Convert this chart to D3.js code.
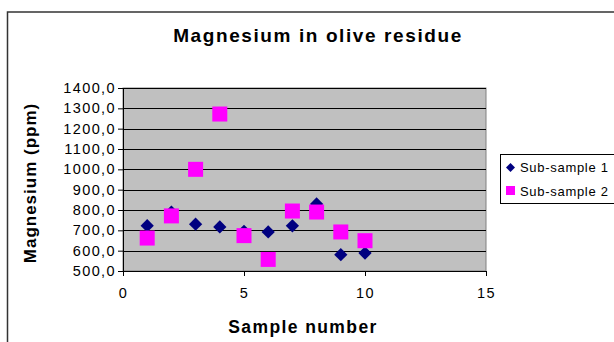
<!DOCTYPE html>
<html><head><meta charset="utf-8">
<script src="https://cdn.jsdelivr.net/npm/d3@7"></script>
<style>body{margin:0;background:#fff}svg{display:block;font-family:Arial,"Liberation Sans",sans-serif}</style>
</head><body>
<svg id="c" width="614" height="342"></svg>
<script>
const samples = [1,2,3,4,5,6,7,8,9,10];
const subSample1 = [723,790,730,717,695,692,722,830,580,588];
const subSample2 = [662,771,1000,1272,674,557,795,790,692,649];
const yTicks = [500,600,700,800,900,1000,1100,1200,1300,1400];
const xTicks = [0,5,10,15];
const seriesNames = ["Sub-sample 1","Sub-sample 2"];

const svg = d3.select("#c");
const L=123,R=486,T=88,B=271;
const x = d3.scaleLinear().domain([0,15]).range([L,R]);
const y = d3.scaleLinear().domain([500,1400]).range([B,T]);

// outer frame
svg.append("path").attr("d","M7.5,360 V12 H640").attr("fill","none").attr("stroke","#333").attr("stroke-width",1.5);

// plot area
svg.append("rect").attr("x",L).attr("y",T).attr("width",R-L).attr("height",B-T).attr("fill","#c0c0c0").attr("stroke","#808080").attr("stroke-width",1);

// gridlines
svg.append("g").selectAll("line").data(yTicks.filter(d=>d>500)).join("line")
  .attr("x1",L).attr("x2",R).attr("y1",d=>Math.round(y(d))+0.5).attr("y2",d=>Math.round(y(d))+0.5)
  .attr("stroke","#000").attr("stroke-width",1);

// axes
const fmt = d=>d.toFixed(1).replace(".",",");
const gy = svg.append("g").attr("transform",`translate(${L},0)`)
  .call(d3.axisLeft(y).tickValues(yTicks).tickFormat(fmt).tickSize(5).tickPadding(2));
const gx = svg.append("g").attr("transform",`translate(0,${B})`)
  .call(d3.axisBottom(x).tickValues(xTicks).tickSize(5).tickPadding(12));
[gy,gx].forEach(g=>{
  g.select(".domain").attr("stroke","#000");
  g.selectAll(".tick line").attr("stroke","#000");
  g.selectAll("text").attr("font-family","Arial,'Liberation Sans',sans-serif").attr("font-size",14.5).attr("fill","#000").style("letter-spacing","1.4px");
});

// points
const d1 = samples.map((s,i)=>({x:s,y:subSample1[i]}));
const d2 = samples.map((s,i)=>({x:s,y:subSample2[i]}));
const diamond = d3.symbol().type(d3.symbolSquare).size(88);
svg.append("g").selectAll("path").data(d1).join("path")
  .attr("d",diamond).attr("transform",d=>`translate(${x(d.x)},${y(d.y)}) rotate(45)`)
  .attr("fill","#000080");
const sq=15;
svg.append("g").selectAll("rect").data(d2).join("rect")
  .attr("x",d=>x(d.x)-sq/2).attr("y",d=>y(d.y)-sq/2).attr("width",sq).attr("height",sq)
  .attr("fill","#ff00ff");

// titles
svg.append("text").attr("x",318).attr("y",42).attr("text-anchor","middle")
  .attr("font-weight","bold").attr("font-size",19).style("letter-spacing","1.6px").text("Magnesium in olive residue");
svg.append("text").attr("x",303).attr("y",333).attr("text-anchor","middle")
  .attr("font-weight","bold").attr("font-size",17.5).style("letter-spacing","1.4px").text("Sample number");
svg.append("text").attr("transform","translate(36,183) rotate(-90)").attr("text-anchor","middle")
  .attr("font-weight","bold").attr("font-size",17).style("letter-spacing","1px").text("Magnesium (ppm)");

// legend
const lg = svg.append("g");
lg.append("rect").attr("x",500.5).attr("y",154.5).attr("width",140).attr("height",49).attr("fill","#fff").attr("stroke","#000");
lg.append("path").attr("d",d3.symbol().type(d3.symbolSquare).size(40)).attr("transform","translate(510.5,167.5) rotate(45)").attr("fill","#000080");
lg.append("rect").attr("x",506).attr("y",186).attr("width",9).attr("height",9).attr("fill","#ff00ff");
lg.selectAll("text").data(seriesNames).join("text")
  .attr("x",520).attr("y",(d,i)=>172+i*23.5).attr("font-size",13).style("letter-spacing","0.7px").text(d=>d);
</script>
</body></html>
